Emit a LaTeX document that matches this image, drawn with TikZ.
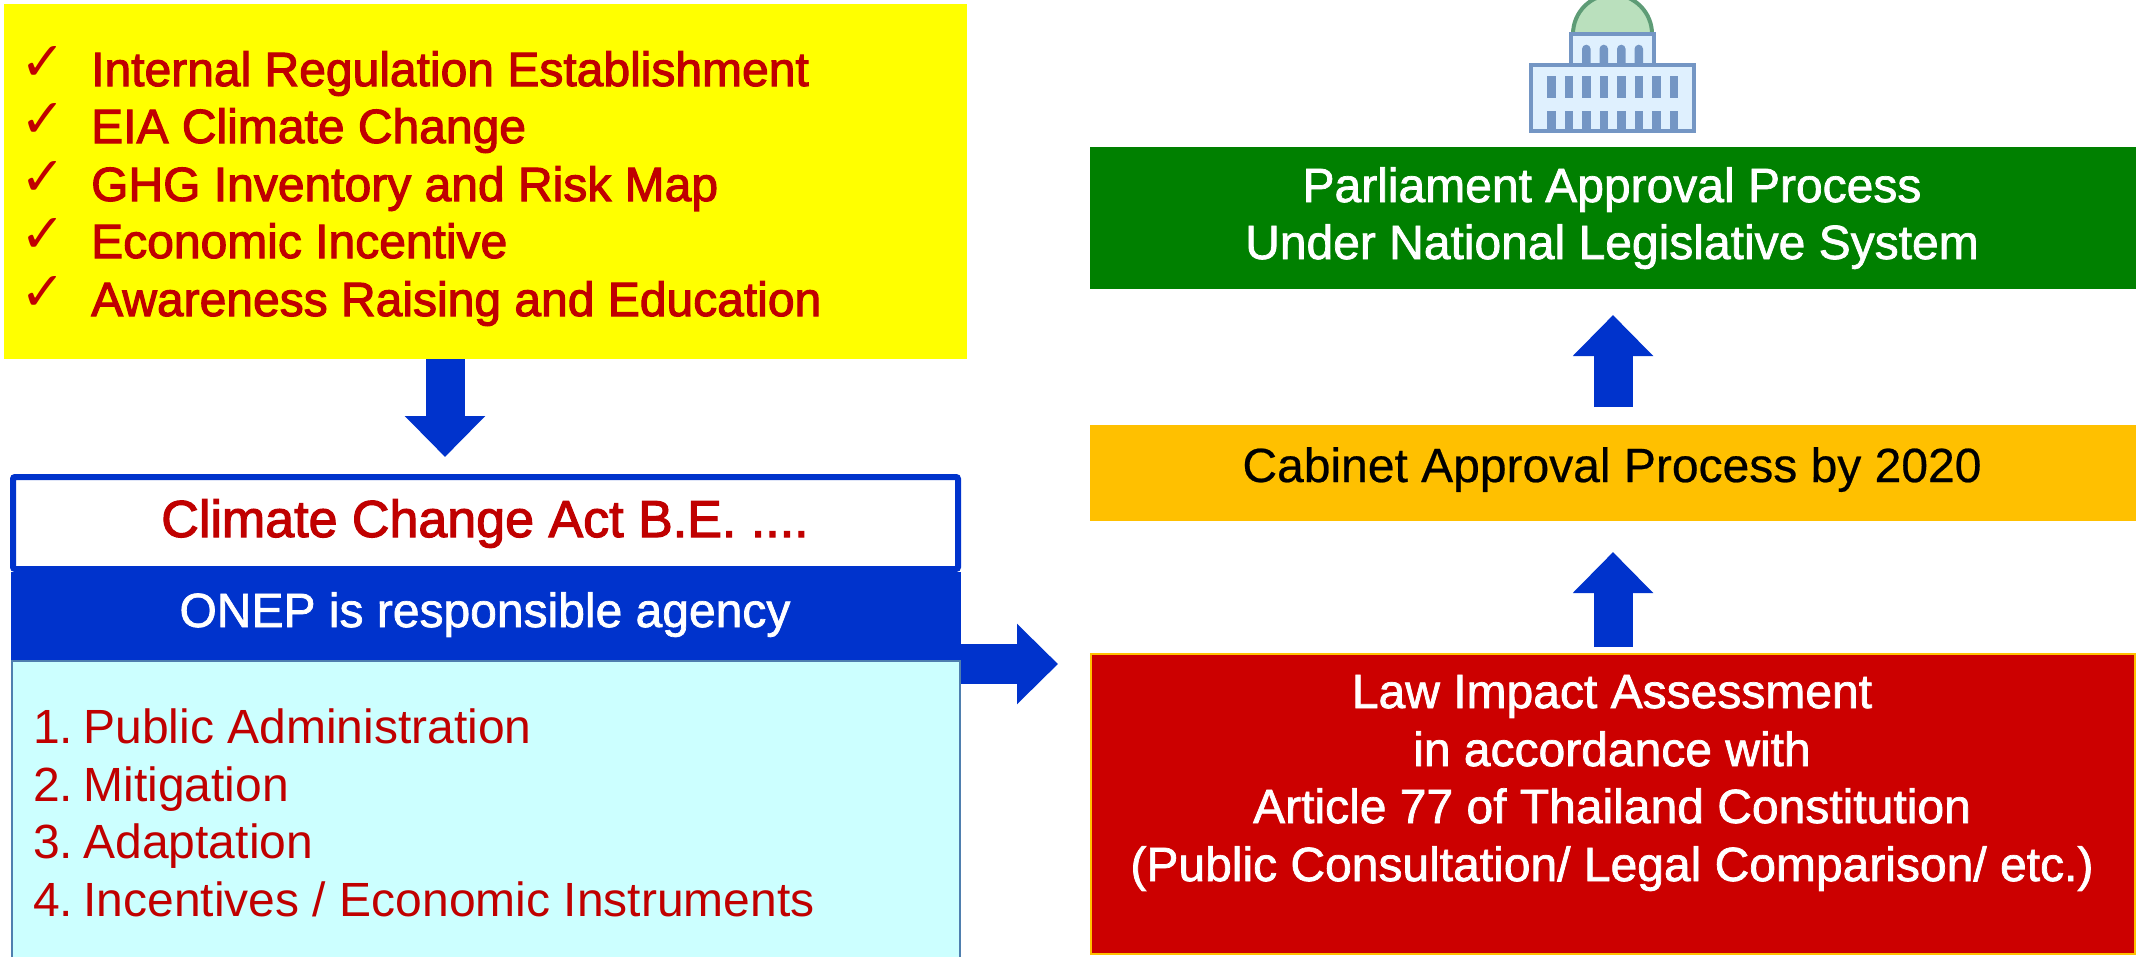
\documentclass[tikz,border=0pt]{standalone}
\usepackage{fontspec}
\setmainfont{Liberation Sans}
\newfontfamily\heavyfont[FakeBold=1.5]{Liberation Sans}
\newfontfamily\redheavyfont[FakeBold=2.2]{Liberation Sans}
\newfontfamily\semifont[FakeBold=0.5]{Liberation Sans}
\newfontfamily\checkfont{DejaVu Sans}
\usetikzlibrary{arrows.meta,calc}
\definecolor{tred}{HTML}{C00000}
\definecolor{byellow}{HTML}{FFFF00}
\definecolor{bblue}{HTML}{0033CC}
\definecolor{bgreen}{HTML}{008000}
\definecolor{borange}{HTML}{FFC000}
\definecolor{bred}{HTML}{CC0000}
\definecolor{bcyan}{HTML}{CCFFFF}
\definecolor{cyanedge}{HTML}{4F7FAF}
\definecolor{icoblue}{HTML}{7496C4}
\definecolor{icofill}{HTML}{DFF0FE}
\definecolor{domefill}{HTML}{BAE0BD}
\definecolor{domeline}{HTML}{5E9C76}
\tikzset{
  panel/.style={inner sep=0pt,outer sep=0pt,anchor=north west},
  redline/.style={anchor=base west,inner sep=0pt,text=tred,font=\redheavyfont\fontsize{48}{58}\selectfont},
  listline/.style={anchor=base west,inner sep=0pt,text=tred,font=\fontsize{48}{58}\selectfont},
  tick/.style={anchor=base west,inner sep=0pt,text=tred,font=\checkfont\fontsize{54}{60}\selectfont},
  whiteline/.style={anchor=base,inner sep=0pt,text=white,font=\heavyfont\fontsize{48}{58}\selectfont},
  blackline/.style={anchor=base,inner sep=0pt,text=black,font=\semifont\fontsize{48}{58}\selectfont},
  bigarrow/.style={draw=bblue,line width=39pt,-{Triangle[length=41pt,width=78pt]}},
  icoline/.style={draw=icoblue,fill=icofill,line width=4pt},
  icobar/.style={fill=icoblue}
}
\begin{document}
\begin{tikzpicture}[x=1pt,y=-1pt]
\useasboundingbox (0,0) rectangle (2136,956);
% left column
\node[panel,fill=byellow,minimum width=963pt,minimum height=355pt] (yellow) at (4,4) {};
\node[panel,fill=bcyan,draw=cyanedge,line width=2pt,minimum width=948pt,minimum height=300pt] (cyan) at (12,661) {};
\node[panel,fill=bblue,minimum width=950pt,minimum height=88pt] (onep) at (11,572) {};
\node[panel,fill=white,draw=bblue,line width=6pt,rounded corners=2pt,minimum width=945pt,minimum height=92pt] (title) at (13,477) {};
% right column
\node[panel,fill=bgreen,minimum width=1046pt,minimum height=142pt] (green) at (1090,147) {};
\node[panel,fill=borange,minimum width=1046pt,minimum height=96pt] (orange) at (1090,425) {};
\node[panel,fill=bred,draw=borange,line width=2pt,minimum width=1044pt,minimum height=300pt] (red) at (1091,654) {};
% block arrows
\coordinate (dnx) at (445,0);
\coordinate (rty) at (0,664);
\draw[bigarrow,shorten >=20pt] (yellow.south -| dnx) -- (title.north -| dnx);
\draw[bigarrow,line width=40pt,shorten >=33pt] (onep.east |- rty) -- (red.west |- rty);
\draw[bigarrow,shorten <=7pt,shorten >=31pt] (red.north) -- (orange.south);
\draw[bigarrow,shorten <=18pt,shorten >=26pt] (orange.north) -- (green.south);
% yellow list
\node[tick] (c1) at (20,80) {✓};
\node[tick] (c2) at (20,137) {✓};
\node[tick] (c3) at (20,195) {✓};
\node[tick] (c4) at (20,252) {✓};
\node[tick] (c5) at (20,310) {✓};
\node[redline] (y1) at (91,86) {Internal Regulation Establishment};
\node[redline] (y2) at (91,143) {EIA Climate Change};
\node[redline] (y3) at (91,201) {GHG Inventory and Risk Map};
\node[redline] (y4) at (91,258) {Economic Incentive};
\node[redline] (y5) at (91,316) {Awareness Raising and Education};
% title stack
\node[anchor=base,inner sep=0pt,text=tred,font=\redheavyfont\fontsize{52}{60}\selectfont] (titletext) at (485,537) {Climate Change Act B.E. ....};
\node[whiteline] (oneptext) at (485,627) {ONEP is responsible agency};
% cyan list
\node[listline] (l1) at (33,743) {1.\kern-3pt\ Public Administration};
\node[listline] (l2) at (33,801) {2.\kern-3pt\ Mitigation};
\node[listline] (l3) at (33,858) {3.\kern-3pt\ Adaptation};
\node[listline] (l4) at (33,916) {4.\kern-3pt\ Incentives / Economic Instruments};
% right text
\node[whiteline] (g1) at (1612,202) {Parliament Approval Process};
\node[whiteline] (g2) at (1612,259) {Under National Legislative System};
\node[blackline] (o1) at (1612,482) {Cabinet Approval Process by 2020};
\node[whiteline] (r1) at (1612,708) {Law Impact Assessment};
\node[whiteline] (r2) at (1612,766) {in accordance with};
\node[whiteline] (r3) at (1612,823) {Article 77 of Thailand Constitution};
\node[whiteline] (r4) at (1612,881) {(Public Consultation/ Legal Comparison/ etc.)};
% parliament icon
\begin{scope}
\clip (1500,0) rectangle (1730,140);
\draw[fill=domefill,draw=domeline,line width=4pt] (1573,34) arc[start angle=180,end angle=360,radius=39.5] -- cycle;
\draw[icoline] (1571,34) rectangle (1654,65);
\foreach \i in {0,1,2,3} {
  \fill[icobar] ({1582+17.5*\i},63) -- ({1582+17.5*\i},49) arc[start angle=180,end angle=360,radius=4.3] -- ({1590.6+17.5*\i},63) -- cycle;
}
\draw[icoline] (1531,64.5) rectangle (1694,131);
\foreach \i in {0,...,7} {
  \fill[icobar] ({1547+17.5*\i},76) rectangle ++(8.7,21.5);
  \fill[icobar] ({1547+17.5*\i},111) rectangle ++(8.7,19);
}
\end{scope}
\end{tikzpicture}
\end{document}
